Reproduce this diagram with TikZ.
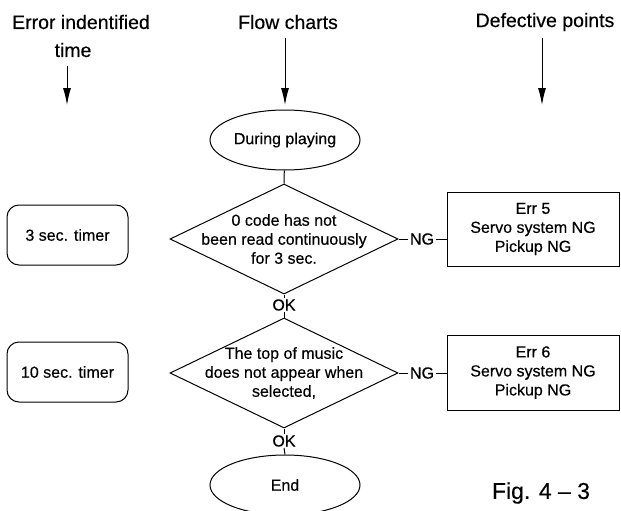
\documentclass[tikz,border=0pt]{standalone}
\usepackage{fontspec}
\setmainfont{Liberation Sans}[FakeBold=0.4]
\usetikzlibrary{shapes.geometric,arrows.meta}
\begin{document}
\begin{tikzpicture}[x=1pt,y=-1pt,
  every node/.style={font=\fontsize{16}{19}\selectfont, inner sep=1pt},
  hdr/.style={font=\fontsize{19.5}{26}\selectfont, align=center},
  line/.style={line width=1pt},
  harrow/.style={line width=1pt, -{Latex[length=17pt,width=8pt]}},
  timerbox/.style={draw, line width=1pt, rounded corners=12pt, minimum width=121pt, minimum height=60pt},
  decision/.style={draw, line width=1pt, diamond, inner sep=0pt, minimum width=228pt, minimum height=110pt},
  terminal/.style={draw, line width=1pt, ellipse, inner sep=0pt, minimum width=150pt, minimum height=60pt},
  errbox/.style={draw, line width=1pt, minimum width=172pt, minimum height=74pt, align=center},
]
\useasboundingbox (0,0) rectangle (621,511);
\clip (0,0) rectangle (621,511);

% headers
\node[hdr] (h1) at (81,22) {Error indentified};
\node[hdr] (h1b) at (73,50) {time};
\node[hdr] (h2) at (288,22) {Flow charts};
\node[hdr] (h3) at (545,22) {Defective points};

\coordinate (a1s) at (67,66);  \coordinate (a1e) at (67,105);
\coordinate (a2s) at (285,38); \coordinate (a2e) at (285,105);
\coordinate (a3s) at (542,38); \coordinate (a3e) at (542,105);
\draw[harrow] (a1s) -- (a1e);
\draw[harrow] (a2s) -- (a2e);
\draw[harrow] (a3s) -- (a3e);

% flow
\node[terminal] (start) at (285,140) {During playing};
\node[decision] (d1) at (284,239) {};
\node[align=center] (t1) at (d1.center) {0 code has not\\been read continuously\\for 3 sec.};
\node (ok1) at (284,305) {OK};
\node[decision] (d2) at (284,373) {};
\node[align=center] (t2) at (d2.center) {The top of music\\does not appear when\\selected,};
\node (ok2) at (284,441) {OK};
\node[terminal] (end) at (285,485) {End};

% timers
\node[timerbox] (tm1) at (67.5,235) {3 sec. timer};
\node[timerbox] (tm2) at (67.5,372) {10 sec. timer};

% error boxes
\node[errbox] (e1) at (533,229) {Err 5\\Servo system NG\\Pickup NG};
\node[errbox, minimum height=75pt] (e2) at (533,372.5) {Err 6\\Servo system NG\\Pickup NG};

\node[inner sep=2pt] (ng1) at (422,239) {NG};
\node[inner sep=2pt] (ng2) at (422,373) {NG};

\draw[line] (start) -- (d1.north);
\draw[line] (d1.south) -- (ok1.north);
\draw[line] (ok1.south) -- (d2.north);
\draw[line] (d2.south) -- (ok2.north);
\draw[line] (ok2.south) -- (end.north);
\draw[line] (d1.east) -- (ng1.west);
\draw[line] (ng1.east) -- (ng1.east -| e1.west);
\draw[line] (d2.east) -- (ng2.west);
\draw[line] (ng2.east) -- (ng2.east -| e2.west);

\node[font=\fontsize{23}{28}\selectfont] (fig) at (541,493) {Fig. 4 – 3};
\end{tikzpicture}
\end{document}
